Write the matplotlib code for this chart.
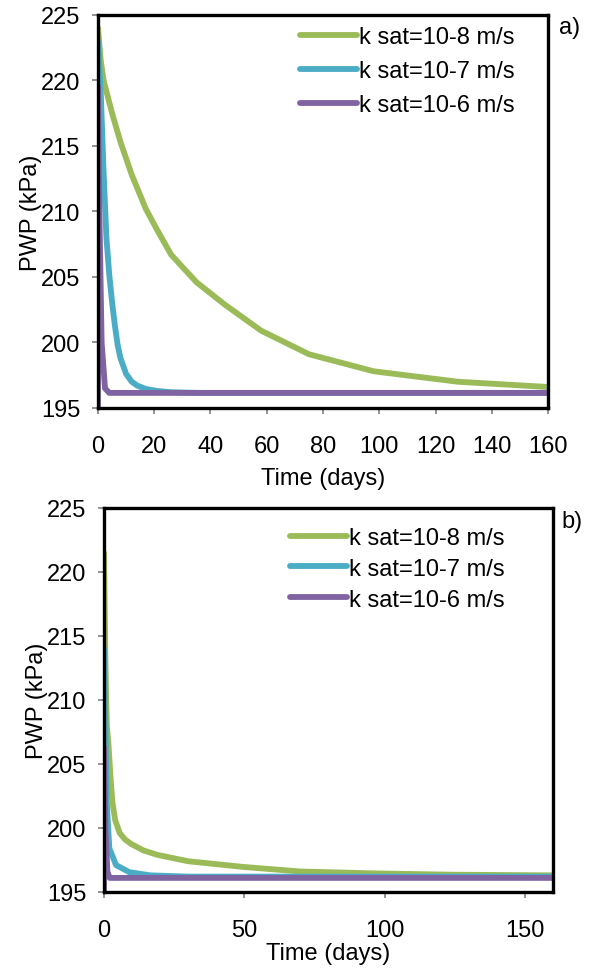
import matplotlib
matplotlib.use("Agg")
import matplotlib.pyplot as plt

plt.rcParams['font.family'] = ['Liberation Sans', 'DejaVu Sans']

# panel a) PWP vs time
t_a_k8 = [0, 1, 2, 5, 8, 12, 17, 21, 26, 35, 45, 58, 75, 98, 128, 160]
p_a_k8 = [224, 221.5, 220, 217.5, 215.3, 212.8, 210.2, 208.6, 206.7, 204.6, 202.9, 200.9, 199.1, 197.8, 197.0, 196.6]
t_a_k7 = [0, 1, 2, 3, 4, 5, 6, 7, 8, 10, 12, 14, 17, 21, 26, 35, 160]
p_a_k7 = [222.9, 219, 213, 208, 205.2, 203.1, 201.3, 199.8, 198.8, 197.6, 197.0, 196.7, 196.45, 196.3, 196.2, 196.15, 196.15]
t_a_k6 = [0, 0, 0.5, 1.3, 2.5, 4, 160]
p_a_k6 = [195, 219.5, 210, 200, 196.5, 196.15, 196.15]

# panel b) PWP vs time
t_b_k8 = [0, 0.5, 1, 1.6, 2.3, 3, 4, 5.6, 7.5, 9.7, 14, 19, 30, 50, 70, 97, 124, 160]
p_b_k8 = [221.5, 213, 208, 206.5, 204.0, 202.0, 200.6, 199.6, 199.1, 198.75, 198.25, 197.9, 197.4, 196.95, 196.6, 196.45, 196.35, 196.3]
t_b_k7 = [0, 0.5, 0.9, 1.9, 4.3, 9, 16.4, 30, 160]
p_b_k7 = [214, 207.9, 202.3, 198.4, 197.1, 196.55, 196.3, 196.2, 196.2]
t_b_k6 = [0, 0, 0.5, 1.2, 2, 160]
p_b_k6 = [195, 206.3, 200, 196.6, 196.1, 196.1]

labels = ['k sat=10-8 m/s', 'k sat=10-7 m/s', 'k sat=10-6 m/s']
colors = ['#9BBB59', '#4BACC6', '#8064A2']
yticks = [195, 200, 205, 210, 215, 220, 225]

fig = plt.figure(figsize=(5.92, 9.70), dpi=100)
ax1 = fig.add_axes([0.1655, 0.5784, 0.7602, 0.4052])
ax2 = fig.add_axes([0.1757, 0.0794, 0.7584, 0.3959])

panels = [
    (ax1, [(t_a_k8, p_a_k8), (t_a_k7, p_a_k7), (t_a_k6, p_a_k6)], range(0, 161, 20), 0.449, 0.972, 0.52, -0.150),
    (ax2, [(t_b_k8, p_b_k8), (t_b_k7, p_b_k7), (t_b_k6, p_b_k6)], range(0, 151, 50), 0.414, 0.951, 0.38, -0.130),
]

for ax, series, xt, lx, ly, lsp, xly in panels:
    for (t, p), c, lab in zip(series, colors, labels):
        ax.plot(t, p, color=c, lw=4.2, label=lab, solid_capstyle='round', solid_joinstyle='round')
    ax.set_xlim(0, 160)
    ax.set_ylim(195, 225)
    ax.set_xticks(list(xt))
    ax.set_yticks(yticks)
    for s in ax.spines.values():
        s.set_color('black')
        s.set_linewidth(2.4)
    ax.tick_params(axis='both', direction='out', length=4.5, width=1.2, color='#808080',
                   labelsize=17)
    ax.tick_params(axis='x', pad=15)
    ax.tick_params(axis='y', pad=8)
    ax.set_xlabel('Time (days)', fontsize=17)
    ax.xaxis.set_label_coords(0.5, xly)
    ax.set_ylabel('PWP (kPa)', fontsize=17)
    ax.yaxis.set_label_coords(-0.125, 0.5)
    ax.legend(loc='upper left', bbox_to_anchor=(lx, ly), frameon=False, fontsize=17,
              handlelength=2.4, handletextpad=0.1, labelspacing=lsp, borderpad=0,
              borderaxespad=0)

fig.text(570 / 592, 1 - 28 / 970, 'a)', fontsize=17, ha='center', va='center')
fig.text(572 / 592, 1 - 522 / 970, 'b)', fontsize=17, ha='center', va='center')

fig.savefig('out.png', dpi=100)
